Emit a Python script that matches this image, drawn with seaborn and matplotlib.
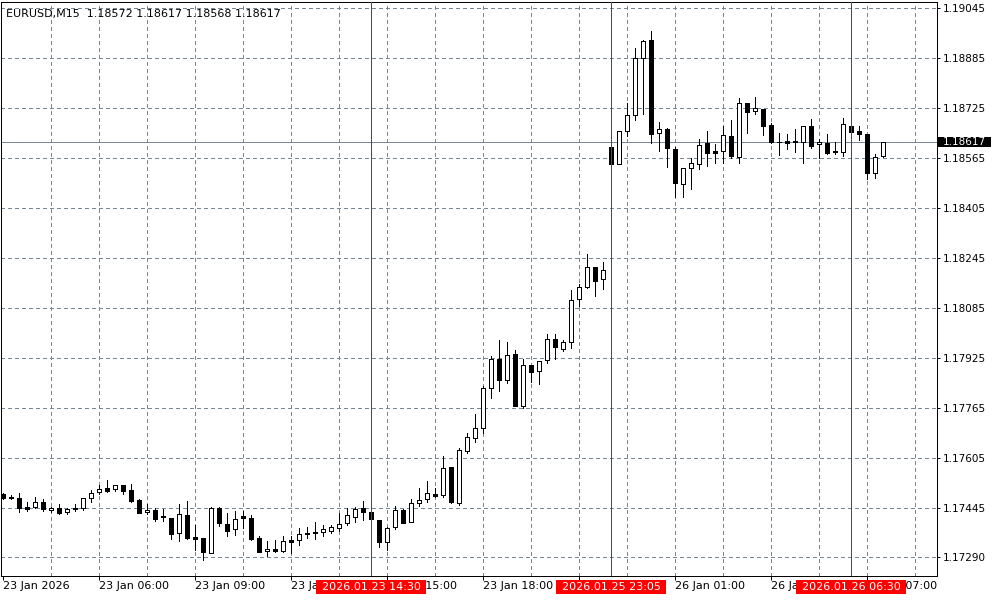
import matplotlib
matplotlib.use("Agg")
import matplotlib.pyplot as plt
import matplotlib.transforms as mtransforms
from matplotlib.patches import Rectangle
import seaborn as sns

# EURUSD M15 bars, 23 Jan 03:00 .. 26 Jan 07:30 (server time)
symbol = "EURUSD,M15"
opens = [
    1.17490, 1.17482, 1.17477, 1.17448, 1.17448, 1.17464, 1.17439, 1.17445, 1.17432, 1.17445,
    1.17445, 1.17477, 1.17496, 1.17509, 1.17507, 1.17519, 1.17504, 1.17472, 1.17432, 1.17440,
    1.17421, 1.17414, 1.17365, 1.17424, 1.17353, 1.17350, 1.17303, 1.17445, 1.17395, 1.17378,
    1.17420, 1.17413, 1.17350, 1.17307, 1.17315, 1.17309, 1.17344, 1.17343, 1.17367, 1.17370,
    1.17368, 1.17373, 1.17381, 1.17397, 1.17418, 1.17445, 1.17432, 1.17407, 1.17336, 1.17384,
    1.17440, 1.17402, 1.17461, 1.17474, 1.17491, 1.17488, 1.17576, 1.17462, 1.17627, 1.17669,
    1.17701, 1.17829, 1.17923, 1.17855, 1.17938, 1.17773, 1.17903, 1.17883, 1.17919, 1.17986,
    1.17956, 1.17976, 1.18113, 1.18152, 1.18216, 1.18178, 1.18600, 1.18546, 1.18651, 1.18703,
    1.18885, 1.18944, 1.18645, 1.18659, 1.18595, 1.18482, 1.18533, 1.18546, 1.18613, 1.18588,
    1.18587, 1.18635, 1.18570, 1.18741, 1.18717, 1.18722, 1.18672, 1.18618, 1.18620, 1.18620,
    1.18616, 1.18668, 1.18610, 1.18615, 1.18588, 1.18584, 1.18667, 1.18652, 1.18643, 1.18517,
    1.18572,
]
highs = [
    1.17495, 1.17488, 1.17493, 1.17466, 1.17482, 1.17474, 1.17450, 1.17459, 1.17445, 1.17459,
    1.17477, 1.17504, 1.17519, 1.17536, 1.17520, 1.17520, 1.17523, 1.17473, 1.17459, 1.17445,
    1.17442, 1.17414, 1.17459, 1.17469, 1.17392, 1.17350, 1.17448, 1.17448, 1.17429, 1.17436,
    1.17436, 1.17424, 1.17356, 1.17341, 1.17344, 1.17356, 1.17356, 1.17381, 1.17384, 1.17402,
    1.17392, 1.17392, 1.17431, 1.17445, 1.17448, 1.17468, 1.17433, 1.17407, 1.17386, 1.17452,
    1.17442, 1.17474, 1.17509, 1.17532, 1.17509, 1.17612, 1.17578, 1.17638, 1.17685, 1.17747,
    1.17837, 1.17932, 1.17984, 1.17977, 1.17952, 1.17922, 1.17904, 1.17916, 1.18002, 1.18002,
    1.17984, 1.18144, 1.18161, 1.18258, 1.18217, 1.18232, 1.18601, 1.18652, 1.18741, 1.18917,
    1.18944, 1.18972, 1.18681, 1.18663, 1.18602, 1.18534, 1.18565, 1.18628, 1.18652, 1.18611,
    1.18668, 1.18688, 1.18757, 1.18742, 1.18760, 1.18723, 1.18677, 1.18645, 1.18643, 1.18658,
    1.18669, 1.18691, 1.18626, 1.18643, 1.18617, 1.18693, 1.18668, 1.18668, 1.18644, 1.18579,
    1.18617,
]
lows = [
    1.17474, 1.17475, 1.17434, 1.17437, 1.17445, 1.17437, 1.17434, 1.17428, 1.17426, 1.17437,
    1.17440, 1.17466, 1.17491, 1.17498, 1.17499, 1.17491, 1.17464, 1.17430, 1.17428, 1.17405,
    1.17403, 1.17347, 1.17341, 1.17346, 1.17312, 1.17280, 1.17302, 1.17388, 1.17357, 1.17359,
    1.17381, 1.17344, 1.17304, 1.17293, 1.17304, 1.17304, 1.17301, 1.17328, 1.17351, 1.17347,
    1.17357, 1.17367, 1.17373, 1.17392, 1.17402, 1.17408, 1.17409, 1.17322, 1.17312, 1.17378,
    1.17397, 1.17401, 1.17452, 1.17466, 1.17482, 1.17481, 1.17462, 1.17456, 1.17622, 1.17658,
    1.17685, 1.17797, 1.17821, 1.17847, 1.17772, 1.17767, 1.17848, 1.17843, 1.17909, 1.17922,
    1.17949, 1.17959, 1.18093, 1.18151, 1.18125, 1.18145, 1.18545, 1.18545, 1.18636, 1.18688,
    1.18707, 1.18615, 1.18589, 1.18538, 1.18440, 1.18440, 1.18466, 1.18532, 1.18541, 1.18549,
    1.18549, 1.18565, 1.18551, 1.18645, 1.18707, 1.18640, 1.18613, 1.18576, 1.18595, 1.18586,
    1.18549, 1.18599, 1.18565, 1.18580, 1.18579, 1.18573, 1.18649, 1.18624, 1.18500, 1.18503,
    1.18568,
]
closes = [
    1.17479, 1.17478, 1.17447, 1.17444, 1.17464, 1.17442, 1.17446, 1.17431, 1.17442, 1.17441,
    1.17477, 1.17493, 1.17506, 1.17501, 1.17519, 1.17501, 1.17468, 1.17431, 1.17440, 1.17412,
    1.17416, 1.17362, 1.17427, 1.17351, 1.17345, 1.17306, 1.17445, 1.17397, 1.17373, 1.17410,
    1.17413, 1.17347, 1.17306, 1.17315, 1.17309, 1.17340, 1.17338, 1.17363, 1.17362, 1.17365,
    1.17378, 1.17384, 1.17394, 1.17423, 1.17442, 1.17432, 1.17410, 1.17336, 1.17383, 1.17439,
    1.17399, 1.17461, 1.17471, 1.17493, 1.17485, 1.17573, 1.17466, 1.17632, 1.17672, 1.17701,
    1.17829, 1.17922, 1.17855, 1.17935, 1.17773, 1.17903, 1.17882, 1.17915, 1.17986, 1.17960,
    1.17976, 1.18111, 1.18152, 1.18216, 1.18173, 1.18207, 1.18546, 1.18651, 1.18703, 1.18885,
    1.18940, 1.18644, 1.18658, 1.18597, 1.18487, 1.18533, 1.18549, 1.18607, 1.18583, 1.18583,
    1.18639, 1.18572, 1.18741, 1.18714, 1.18725, 1.18669, 1.18617, 1.18616, 1.18615, 1.18617,
    1.18668, 1.18605, 1.18617, 1.18583, 1.18586, 1.18674, 1.18650, 1.18644, 1.18519, 1.18568,
    1.18617,
]

time_ticks = [0, 12, 24, 36, 48, 60, 72, 84, 96, 108]
time_labels = ["23 Jan 2026", "23 Jan 06:00", "23 Jan 09:00", "23 Jan 12:00", "23 Jan 15:00",
               "23 Jan 18:00", "23 Jan 21:00", "26 Jan 01:00", "26 Jan 04:00", "26 Jan 07:00"]
marker_bars = [46, 76, 106]
marker_labels = ["2026.01.23 14:30", "2026.01.25 23:05", "2026.01.26 06:30"]
price_ticks = [1.19045, 1.18885, 1.18725, 1.18565, 1.18405, 1.18245, 1.18085,
               1.17925, 1.17765, 1.17605, 1.17445, 1.17290]
price_labels = ["1.19045", "1.18885", "1.18725", "1.18565", "1.18405", "1.18245", "1.18085",
                "1.17925", "1.17765", "1.17605", "1.17445", "1.17290"]
bid = closes[-1]

sns.set_style("white")
plt.rcParams["font.family"] = ["DejaVu Sans"]
plt.rcParams["axes.linewidth"] = 0.72

FS = 7.5
FS_WIDE = 8  # date labels and header run a bit wider in the original
GRID = "#778899"
PX = 0.72  # one pixel in points at 100 dpi

fig = plt.figure(figsize=(10, 6), dpi=100)
ax = fig.add_axes([1 / 1000, 24 / 600, 936 / 1000, 574 / 600])
ax.set_xlim(-0.25, 116.75)
ax.set_ylim(1.17228, 1.19065)
for s in ax.spines.values():
    s.set_color("black")
    s.set_linewidth(PX)

# grid
for p in price_ticks:
    ax.axhline(p, color=GRID, lw=PX, ls=(0, (3, 3)), zorder=0.5, antialiased=False)
for i in range(6, 115, 6):
    ax.axvline(i, color=GRID, lw=PX, ls=(0, (3, 3)), zorder=0.5, antialiased=False)

# current price line
ax.axhline(bid, color=GRID, lw=PX, zorder=0.8, antialiased=False)

# candles
idx = list(range(len(opens)))
ax.vlines(idx, lows, highs, color="black", lw=PX, zorder=2, antialiased=False)
bottoms = [min(o, c) for o, c in zip(opens, closes)]
heights = [abs(c - o) for o, c in zip(opens, closes)]
fills = ["white" if c >= o else "black" for o, c in zip(opens, closes)]
ax.bar(idx, heights, bottom=bottoms, width=0.5, color=fills, edgecolor="black",
       linewidth=PX, zorder=3, antialiased=False)

# vertical time markers
for b in marker_bars:
    ax.axvline(b, color="#ff0000", lw=PX, zorder=4, antialiased=False)

# axes ticks
ax.yaxis.tick_right()
ax.set_yticks(price_ticks)
ax.set_yticklabels(price_labels)
ax.tick_params(axis="y", right=True, left=False, length=2.2, width=PX, pad=2.2,
               labelsize=FS, colors="black", direction="out")
ax.set_xticks(time_ticks)
ax.set_xticklabels(time_labels)
ax.tick_params(axis="x", bottom=True, length=2.9, width=PX, pad=0.6,
               labelsize=FS_WIDE, colors="black", direction="out")
for lbl in ax.get_xticklabels():
    lbl.set_horizontalalignment("left")

# red time boxes under the markers
bx = mtransforms.blended_transform_factory(ax.transData, ax.transAxes)
for b, lab in zip(marker_bars, marker_labels):
    ax.add_patch(Rectangle((b - 55 / 8, -18 / 574), 110 / 8, 14 / 574, transform=bx,
                           facecolor="#ff0000", edgecolor="none", clip_on=False, zorder=10))
    ax.text(b, -11 / 574, lab, transform=bx, ha="center", va="center", color="white",
            fontsize=FS_WIDE, clip_on=False, zorder=11)

# bid price box on the right axis
by = mtransforms.blended_transform_factory(ax.transAxes, ax.transData)
ax.add_patch(Rectangle((1 + 1 / 936, bid - 5 * 0.000032), 53 / 936, 10 * 0.000032, transform=by,
                       facecolor="black", edgecolor="none", clip_on=False, zorder=10))
ax.text(1 + 6 / 936, bid, f"{bid:.5f}", transform=by, ha="left", va="center",
        color="white", fontsize=FS, clip_on=False, zorder=11)

# header
header = f"{symbol}  {opens[-1]:.5f} {highs[-1]:.5f} {lows[-1]:.5f} {closes[-1]:.5f}"
ax.text(5.5 / 936, 1 - 11.5 / 574, header, transform=ax.transAxes, ha="left", va="center",
        fontsize=FS_WIDE, color="black", zorder=12)

fig.savefig("out.png", dpi=100, facecolor="white")
